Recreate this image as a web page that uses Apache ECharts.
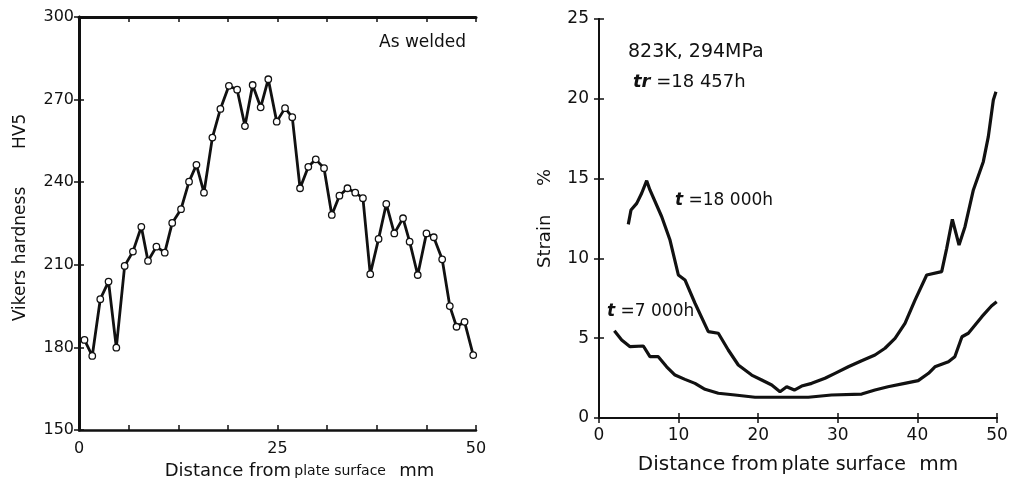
<!DOCTYPE html>
<html>
<head>
<meta charset="utf-8">
<title>Hardness and strain</title>
<script src="https://cdn.jsdelivr.net/npm/echarts@6/dist/echarts.min.js"></script>
<style>
  html, body { margin: 0; padding: 0; background: #fff; }
  #chart { width: 1014px; height: 485px; }
</style>
</head>
<body>
<div id="chart"></div>
<script>
// left panel: Vickers hardness, as welded
var hvDist = [0.69, 1.67, 2.68, 3.72, 4.70, 5.75, 6.79, 7.85, 8.69, 9.75,
  10.80, 11.74, 12.85, 13.86, 14.79, 15.74, 16.80, 17.81, 18.88, 19.92,
  20.90, 21.87, 22.88, 23.84, 24.90, 25.95, 26.86, 27.84, 28.88, 29.82,
  30.86, 31.84, 32.80, 33.81, 34.79, 35.76, 36.68, 37.73, 38.70, 39.71,
  40.81, 41.64, 42.66, 43.76, 44.68, 45.74, 46.70, 47.55, 48.56, 49.65];
var hvValue = [182.7, 176.9, 197.5, 203.9, 179.9, 209.6, 214.8, 223.8, 211.4, 216.6,
  214.4, 225.2, 230.2, 240.2, 246.3, 236.2, 256.2, 266.6, 275.0, 273.6,
  260.4, 275.3, 267.2, 277.4, 262.0, 266.9, 263.6, 237.8, 245.6, 248.3,
  245.1, 228.1, 235.1, 237.8, 236.2, 234.2, 206.6, 219.4, 232.1, 221.4,
  226.9, 218.4, 206.3, 221.4, 220.0, 212.0, 195.0, 187.5, 189.3, 177.2];

// right panel: strain, t = 18 000h
var s18Dist = [3.68, 4.02, 4.74, 5.36, 5.99, 6.40, 7.88, 8.92, 9.97, 10.8,
  12.06, 13.73, 14.99, 16.24, 17.5, 19.18, 20.44, 21.7, 22.74, 23.58,
  24.54, 25.46, 26.72, 28.39, 29.65, 31.32, 33.0, 34.67, 35.93, 37.19,
  38.44, 39.7, 41.17, 43.05, 43.68, 44.39, 45.23, 45.98, 47.03, 48.28,
  48.91, 49.54, 49.87];
var s18Value = [12.13, 13.03, 13.45, 14.08, 14.87, 14.29, 12.61, 11.15, 8.96, 8.65,
  7.19, 5.41, 5.31, 4.26, 3.32, 2.69, 2.38, 2.07, 1.65, 1.96,
  1.75, 2.0, 2.17, 2.49, 2.80, 3.21, 3.59, 3.95, 4.37, 4.99,
  5.93, 7.39, 8.96, 9.17, 10.63, 12.45, 10.84, 11.99, 14.29, 16.06,
  17.63, 19.92, 20.44];

// right panel: strain, t = 7 000h
var s7Dist = [1.93, 2.85, 3.9, 5.57, 6.4, 7.45, 8.5, 9.55, 10.8, 12.06,
  13.32, 14.99, 17.09, 19.6, 22.5, 26.3, 29.2, 33.0, 34.67, 36.3,
  38.4, 40.1, 41.4, 42.2, 43.9, 44.7, 45.6, 46.4, 48.1, 49.3, 49.96];
var s7Value = [5.47, 4.89, 4.47, 4.51, 3.84, 3.84, 3.21, 2.69, 2.42, 2.17,
  1.80, 1.55, 1.44, 1.30, 1.30, 1.30, 1.44, 1.50, 1.75, 1.96,
  2.17, 2.34, 2.80, 3.21, 3.53, 3.84, 5.09, 5.31, 6.35, 7.02, 7.29];

var hvXLabels = [0, 25, 50];

function pairs(xs, ys) {
  var out = [];
  for (var i = 0; i < xs.length; i++) out.push([xs[i], ys[i]]);
  return out;
}

var FONT = 'DejaVu Sans';
var black = '#111';

function baseAxis(extra) {
  var a = {
    type: 'value',
    axisLine: { lineStyle: { color: black, width: 2 } },
    axisTick: { inside: true, length: 5, lineStyle: { color: black, width: 1.5 } },
    axisLabel: { color: black, fontFamily: FONT, fontSize: 16 },
    splitLine: { show: false }
  };
  for (var k in extra) a[k] = extra[k];
  return a;
}
function mirror(extra) {
  var a = baseAxis(extra);
  a.axisLabel = { show: false };
  return a;
}

var xName = {
  a: { fontFamily: FONT, fontSize: 18, color: black },
  b: { fontFamily: FONT, fontSize: 14, color: black }
};
var xName2 = {
  a: { fontFamily: FONT, fontSize: 20, color: black },
  b: { fontFamily: FONT, fontSize: 19, color: black }
};
var boldT = { fontFamily: FONT, fontSize: 17, fontStyle: 'italic', fontWeight: 'bold', fill: black };

var chart = echarts.init(document.getElementById('chart'));
chart.setOption({
  animation: false,
  backgroundColor: '#fff',
  grid: [
    { left: 79, right: 538, top: 17, bottom: 55 },
    { left: 599, right: 17, top: 19, bottom: 67 }
  ],
  xAxis: [
    baseAxis({
      gridIndex: 0, min: 0, max: 50, interval: 6.25, position: 'bottom',
      axisLine: { lineStyle: { color: black, width: 2.5 } },
      axisLabel: {
        color: black, fontFamily: FONT, fontSize: 16, margin: 11,
        formatter: function (v) { return hvXLabels.indexOf(v) >= 0 ? String(v) : ''; }
      },
      name: '{a|Distance from} {b|plate surface}    {a|mm}',
      nameLocation: 'middle', nameGap: 28,
      nameTextStyle: { rich: xName, padding: [0, 0, 0, 44] }
    }),
    mirror({ gridIndex: 0, min: 0, max: 50, interval: 6.25, position: 'top',
      axisLine: { lineStyle: { color: black, width: 3 } } }),
    baseAxis({
      gridIndex: 1, min: 0, max: 50, interval: 10, position: 'bottom',
      axisLabel: { color: black, fontFamily: FONT, fontSize: 17, margin: 9 },
      name: '{a|Distance from} {b|plate surface}    {a|mm}',
      nameLocation: 'middle', nameGap: 37,
      nameTextStyle: { rich: xName2 }
    }),
    mirror({ gridIndex: 1, min: 0, max: 50, interval: 10, position: 'top' })
  ],
  yAxis: [
    baseAxis({
      gridIndex: 0, min: 150, max: 300, interval: 30, position: 'left',
      axisLine: { lineStyle: { color: black, width: 3 } },
      axisLabel: { color: black, fontFamily: FONT, fontSize: 16, margin: 5 },
      name: 'Vikers hardness       HV5', nameLocation: 'middle', nameGap: 50,
      nameTextStyle: { fontFamily: FONT, fontSize: 17, color: black, padding: [0, 0, 0, 12] }
    }),
    mirror({ gridIndex: 0, min: 150, max: 300, interval: 30, position: 'right',
      axisLine: { lineStyle: { color: black, width: 2.5 } } }),
    baseAxis({
      gridIndex: 1, min: 0, max: 25, interval: 5, position: 'left',
      axisLabel: { color: black, fontFamily: FONT, fontSize: 17, margin: 10 },
      name: 'Strain     %', nameLocation: 'middle', nameGap: 45,
      nameTextStyle: { fontFamily: FONT, fontSize: 18, color: black }
    }),
    mirror({ gridIndex: 1, min: 0, max: 25, interval: 5, position: 'right' })
  ],
  series: [
    {
      type: 'line', xAxisIndex: 0, yAxisIndex: 0,
      data: pairs(hvDist, hvValue),
      symbol: 'circle', symbolSize: 6.5,
      itemStyle: { color: '#fff', borderColor: black, borderWidth: 1.3 },
      lineStyle: { color: black, width: 2.8 }
    },
    {
      type: 'line', xAxisIndex: 2, yAxisIndex: 2,
      data: pairs(s18Dist, s18Value), showSymbol: false,
      lineStyle: { color: black, width: 3.2 }
    },
    {
      type: 'line', xAxisIndex: 2, yAxisIndex: 2,
      data: pairs(s7Dist, s7Value), showSymbol: false,
      lineStyle: { color: black, width: 3.2 }
    }
  ],
  graphic: [
    { type: 'text', left: 379, top: 34,
      style: { text: 'As welded', fontFamily: FONT, fontSize: 17, fill: black } },
    { type: 'text', left: 628, top: 43,
      style: { text: '823K, 294MPa', fontFamily: FONT, fontSize: 19, fill: black } },
    { type: 'text', left: 633, top: 73,
      style: {
        text: '{i|tr} =18 457h', fontFamily: FONT, fontSize: 18, fill: black,
        rich: { i: { fontFamily: FONT, fontSize: 18, fontStyle: 'italic', fontWeight: 'bold', fill: black } }
      } },
    { type: 'text', left: 675, top: 192,
      style: { text: '{i|t} =18 000h', fontFamily: FONT, fontSize: 17, fill: black, rich: { i: boldT } } },
    { type: 'text', left: 607, top: 303,
      style: { text: '{i|t} =7 000h', fontFamily: FONT, fontSize: 17, fill: black, rich: { i: boldT } } }
  ]
});
</script>
</body>
</html>
